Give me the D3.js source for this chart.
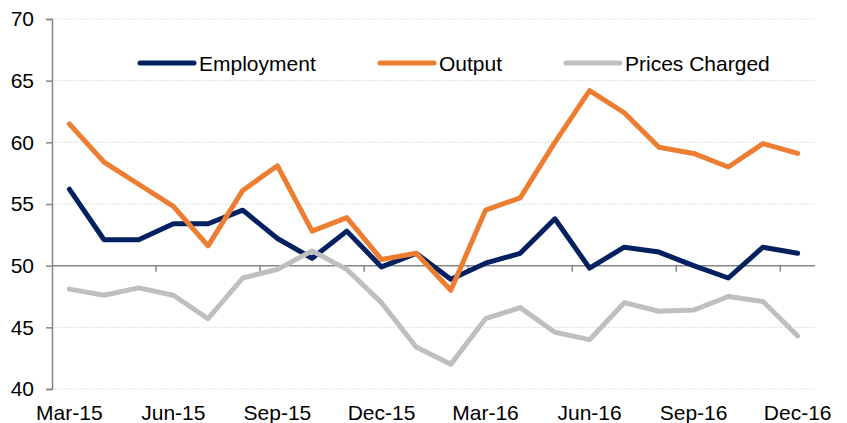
<!DOCTYPE html>
<html>
<head>
<meta charset="utf-8">
<script src="https://cdn.jsdelivr.net/npm/d3@7"></script>
<style>
  html, body { margin: 0; padding: 0; background: #fff; }
  svg { display: block; font-family: "Liberation Sans", Arial, sans-serif; }
</style>
</head>
<body>
<svg id="chart" width="847" height="423"></svg>
<script>
// Months on the category axis
const months = ['Mar-15', 'Apr-15', 'May-15', 'Jun-15', 'Jul-15', 'Aug-15', 'Sep-15', 'Oct-15',
    'Nov-15', 'Dec-15', 'Jan-16', 'Feb-16', 'Mar-16', 'Apr-16', 'May-16', 'Jun-16',
    'Jul-16', 'Aug-16', 'Sep-16', 'Oct-16', 'Nov-16', 'Dec-16'];

// Series values
const employment = [56.2, 52.1, 52.1, 53.4, 53.4, 54.5, 52.2, 50.6, 52.8, 49.9, 51.0,
    48.9, 50.2, 51.0, 53.8, 49.8, 51.5, 51.1, 50.0, 49.0, 51.5, 51.0];
const output = [61.5, 58.4, 56.6, 54.8, 51.6, 56.1, 58.1, 52.8, 53.9, 50.5, 51.0,
    48.0, 54.5, 55.5, 60.0, 64.2, 62.4, 59.6, 59.1, 58.0, 59.9, 59.1];
const pricesCharged = [48.1, 47.6, 48.2, 47.6, 45.7, 49.0, 49.7, 51.2, 49.7, 47.0, 43.4,
    42.0, 45.7, 46.6, 44.6, 44.0, 47.0, 46.3, 46.4, 47.5, 47.1, 44.3];

const yTicks = [40, 45, 50, 55, 60, 65, 70];
const xLabels = ['Mar-15', 'Jun-15', 'Sep-15', 'Dec-15', 'Mar-16', 'Jun-16', 'Sep-16', 'Dec-16'];

const series = [
    { name: 'Employment', values: employment, color: '#002060' },
    { name: 'Output', values: output, color: '#ED7D31' },
    { name: 'Prices Charged', values: pricesCharged, color: '#BFBFBF' }
];

const svg = d3.select('#chart');
const plot = { left: 52, right: 815, top: 19, bottom: 389 };
const axisColor = '#868686';
const fontSize = 21;

const x = d3.scaleBand().domain(months).range([plot.left, plot.right]).padding(0);
const y = d3.scaleLinear().domain([40, 70]).range([plot.bottom, plot.top]);
const cx = d => x(d) + x.bandwidth() / 2;

// Dotted gridlines
svg.append('g')
    .selectAll('line')
    .data(yTicks.filter(t => t !== 50))
    .enter()
    .append('line')
    .attr('x1', plot.left).attr('x2', plot.right)
    .attr('y1', d => y(d)).attr('y2', d => y(d))
    .attr('stroke', '#c8c8c8')
    .attr('stroke-width', 1)
    .attr('stroke-dasharray', '1.2,2');

// Y axis
const yAxis = svg.append('g')
    .attr('transform', `translate(${plot.left},0)`)
    .call(d3.axisLeft(y).tickValues(yTicks).tickSize(6).tickPadding(12).tickFormat(d3.format('d')));
yAxis.select('.domain').attr('stroke', axisColor).attr('stroke-width', 1.5);
yAxis.selectAll('.tick line').attr('stroke', axisColor).attr('stroke-width', 1.5);
yAxis.selectAll('.tick text')
    .attr('font-size', fontSize)
    .attr('font-family', '"Liberation Sans", Arial, sans-serif')
    .attr('fill', '#000');

// Category axis crossing at 50
const xAxisY = y(50);
svg.append('line')
    .attr('x1', plot.left).attr('x2', plot.right)
    .attr('y1', xAxisY).attr('y2', xAxisY)
    .attr('stroke', axisColor)
    .attr('stroke-width', 1.5);

svg.append('g')
    .selectAll('line')
    .data(months.filter((m, i) => i % 3 === 0 && i > 0))
    .enter()
    .append('line')
    .attr('x1', d => x(d)).attr('x2', d => x(d))
    .attr('y1', xAxisY).attr('y2', xAxisY + 6)
    .attr('stroke', axisColor)
    .attr('stroke-width', 1.5);

svg.append('g')
    .selectAll('text')
    .data(xLabels)
    .enter()
    .append('text')
    .attr('x', d => cx(d))
    .attr('y', 420)
    .attr('text-anchor', 'middle')
    .attr('font-size', fontSize)
    .attr('fill', '#000')
    .text(d => d);

// Lines
const line = d3.line()
    .x((d, i) => cx(months[i]))
    .y(d => y(d));

svg.append('g')
    .selectAll('path')
    .data(series)
    .enter()
    .append('path')
    .attr('d', d => line(d.values))
    .attr('fill', 'none')
    .attr('stroke', d => d.color)
    .attr('stroke-width', 5)
    .attr('stroke-linejoin', 'round')
    .attr('stroke-linecap', 'round');

// Legend
const legendX = [140, 380, 566];
const legend = svg.append('g')
    .selectAll('g')
    .data(series)
    .enter()
    .append('g')
    .attr('transform', (d, i) => `translate(${legendX[i]},63)`);

legend.append('line')
    .attr('x1', 0).attr('x2', 54)
    .attr('y1', 0).attr('y2', 0)
    .attr('stroke', d => d.color)
    .attr('stroke-width', 5)
    .attr('stroke-linecap', 'round');

legend.append('text')
    .attr('x', 59)
    .attr('y', 7.5)
    .attr('font-size', fontSize)
    .attr('fill', '#000')
    .text(d => d.name);
</script>
</body>
</html>
